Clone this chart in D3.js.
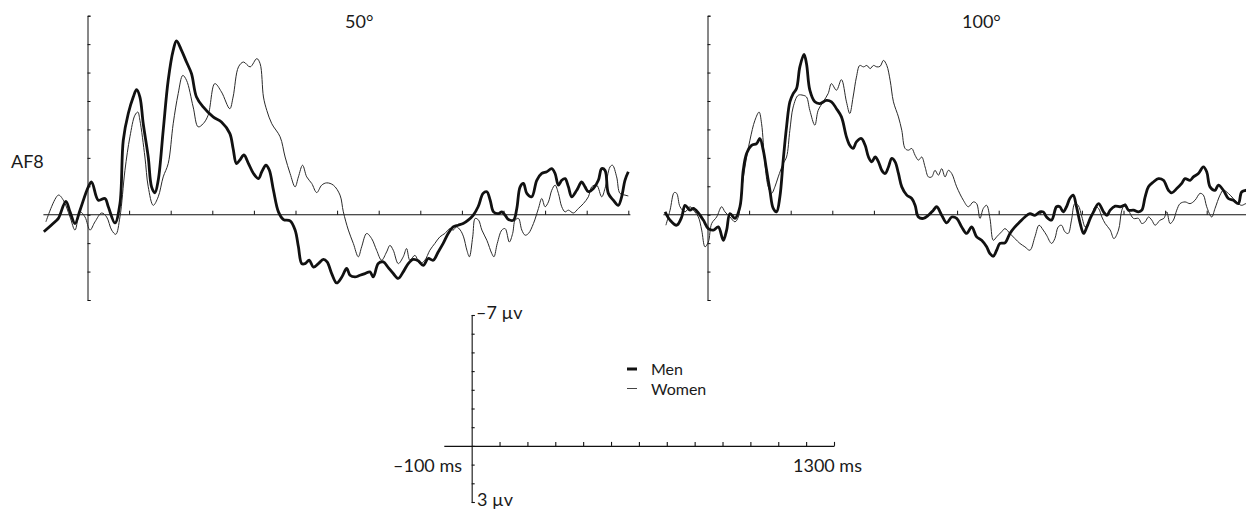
<html>
<head>
<script src="https://cdn.jsdelivr.net/npm/d3@7"></script>
<style>
	body { margin: 0; background-color: white; }
	text { font-family: Lato, "Open Sans", sans-serif; fill: #1a1a1a; font-size: 18px; }
</style>
</head>
<body>
<script>
	// ERP waveforms, channel AF8, [time in ms, amplitude in microvolts], negative drawn up
	var men50 = [[-105,0.6],[-78,0.25],[-70,0.13],[-52,-0.47],[-42,-0.1],[-30,0.31],[-18,-0.16],[2,-0.98],[10,-1.15],[26,-0.51],[42,-0.57],[50,-0.28],[66,0.29],[78,-0.39],[86,-2.62],[98,-3.56],[110,-4.14],[118,-4.4],[126,-4.14],[134,-3.2],[146,-2.03],[154,-0.98],[162,-0.77],[170,-1.21],[182,-2.97],[194,-4.73],[206,-5.78],[214,-6.11],[226,-5.78],[238,-5.37],[250,-4.96],[262,-4.14],[278,-3.79],[302,-3.44],[322,-3.26],[342,-2.86],[350,-2.33],[358,-1.8],[366,-1.92],[376,-2.1],[387,-1.8],[399,-1.45],[411,-1.27],[419,-1.51],[429,-1.74],[437,-1.57],[447,-0.86],[459,-0.1],[471,0.17],[487,0.22],[499,0.54],[507,1.13],[515,1.72],[523,1.72],[533,1.6],[543,1.84],[555,1.72],[567,1.57],[576,1.66],[587,2.07],[599,2.4],[611,2.2],[623,1.89],[631,2.13],[643,2.19],[655,2.13],[667,2.07],[679,2.01],[687,2.19],[699,1.72],[711,1.66],[723,1.86],[735,2.07],[747,2.24],[759,2.01],[771,1.72],[783,1.57],[795,1.62],[807,1.78],[819,1.54],[831,1.6],[843,1.31],[855,1.01],[867,0.66],[879,0.43],[891,0.37],[903,0.31],[915,0.19],[927,0.02],[939,-0.28],[951,-0.75],[960,-0.81],[968,-0.51],[976,-0.1],[988,-0.04],[996,-0.1],[1004,0.02],[1012,0.17],[1024,0.19],[1032,-0.22],[1040,-0.98],[1048,-1.1],[1056,-0.75],[1068,-0.63],[1080,-1.21],[1092,-1.45],[1104,-1.51],[1116,-1.62],[1124,-1.45],[1132,-1.04],[1140,-1.21],[1148,-1.27],[1156,-0.98],[1164,-0.63],[1176,-0.86],[1188,-1.15],[1196,-0.98],[1204,-0.81],[1216,-0.92],[1228,-1.21],[1236,-1.62],[1244,-1.56],[1252,-0.75],[1264,-0.51],[1276,-0.33],[1284,-0.63],[1292,-1.21],[1300,-1.51]];

	var women50 = [[-100,0.25],[-70,-0.69],[-58,-0.51],[-42,0.08],[-30,0.54],[-18,-0.1],[-6,0.08],[6,0.54],[18,0.25],[34,-0.06],[46,0.08],[58,0.54],[68,0.69],[78,0.08],[90,-1.56],[102,-2.74],[114,-3.5],[121,-3.61],[126,-3.32],[138,-2.03],[146,-0.98],[158,-0.33],[170,-0.63],[182,-1.33],[194,-1.8],[206,-3.2],[218,-4.26],[229,-4.9],[238,-4.73],[254,-3.79],[266,-3.09],[278,-3.2],[290,-3.5],[306,-4.61],[322,-4.32],[342,-3.73],[350,-4.14],[363,-5.2],[375,-5.37],[391,-5.2],[407,-5.49],[415,-5.31],[423,-4.14],[431,-3.67],[443,-3.2],[463,-2.74],[475,-2.03],[487,-1.45],[499,-0.98],[507,-1.33],[517,-1.74],[527,-1.33],[539,-1.1],[551,-0.78],[563,-1.04],[575,-1.12],[591,-1.04],[607,-0.69],[615,-0.1],[627,0.54],[639,1.01],[651,1.48],[659,1.13],[671,0.66],[683,0.84],[695,1.25],[707,1.6],[719,1.31],[727,1.08],[735,1.25],[747,1.72],[759,1.48],[767,1.19],[775,1.6],[787,1.43],[799,1.72],[811,1.6],[823,1.25],[835,1.01],[847,0.78],[859,0.66],[871,0.49],[879,0.54],[887,0.43],[896,0.54],[904,0.78],[912,1.25],[918,1.48],[926,0.78],[932,0.13],[940,0.19],[948,0.54],[960,0.9],[972,1.37],[977,1.48],[985,1.01],[996,0.54],[1004,0.49],[1014,0.96],[1022,0.66],[1028,0.19],[1036,0.13],[1044,0.54],[1052,0.72],[1060,0.66],[1072,0.31],[1084,-0.22],[1092,-0.57],[1100,-0.28],[1108,-0.45],[1116,-0.86],[1124,-1.04],[1132,-0.75],[1140,-0.28],[1148,-0.1],[1156,-0.16],[1168,-0.06],[1180,-0.22],[1192,-0.39],[1204,-0.63],[1212,-0.98],[1224,-1.04],[1236,-0.63],[1244,-0.92],[1256,-1.68],[1262,-1.74],[1272,-1.33],[1280,-0.75],[1292,-0.69],[1300,-0.66]];

	var men100 = [[-102,-0.1],[-90,0.19],[-74,0.37],[-62,0.08],[-54,-0.33],[-42,-0.16],[-34,-0.22],[-22,-0.06],[-10,0.19],[2,0.49],[14,0.54],[26,0.43],[38,0.9],[46,0.54],[54,-0.04],[66,0.13],[78,-0.28],[86,-1.57],[94,-2.15],[106,-2.44],[118,-2.5],[126,-2.68],[134,-2.27],[142,-1.57],[150,-0.86],[158,-0.22],[166,-0.1],[174,-0.63],[182,-1.92],[190,-3.09],[198,-3.97],[206,-4.26],[214,-4.44],[222,-5.2],[232,-5.64],[238,-5.31],[246,-4.38],[258,-3.97],[270,-3.91],[286,-4.02],[298,-3.97],[310,-3.73],[322,-3.44],[334,-2.74],[342,-2.44],[350,-2.33],[358,-2.56],[370,-2.68],[379,-2.44],[387,-2.03],[395,-1.86],[403,-2.03],[411,-1.86],[419,-1.56],[427,-1.45],[435,-1.68],[443,-1.98],[451,-1.86],[459,-1.45],[467,-0.98],[479,-0.69],[491,-0.57],[499,-0.33],[507,0.08],[519,0.13],[531,0.02],[543,-0.16],[551,-0.28],[563,0.02],[575,0.29],[587,0.08],[599,0.13],[611,0.43],[623,0.66],[635,0.43],[647,0.78],[659,0.9],[671,1.13],[679,1.37],[687,1.46],[695,1.25],[703,1.01],[715,0.99],[727,0.66],[739,0.43],[751,0.25],[763,0.08],[775,-0.04],[787,0.02],[799,-0.1],[807,-0.1],[815,0.08],[827,0.19],[839,-0.28],[847,-0.28],[855,-0.1],[863,-0.28],[871,-0.57],[879,-0.69],[887,-0.28],[896,0.31],[904,0.66],[912,0.43],[920,0.13],[928,-0.1],[940,-0.39],[952,-0.1],[960,0.02],[968,-0.16],[980,-0.3],[992,-0.28],[1004,-0.33],[1012,-0.16],[1024,-0.16],[1036,-0.1],[1044,-0.16],[1052,-0.63],[1060,-0.98],[1072,-1.15],[1084,-1.27],[1096,-1.21],[1108,-0.86],[1116,-0.77],[1128,-0.92],[1140,-1.1],[1148,-1.27],[1160,-1.21],[1168,-1.33],[1180,-1.45],[1192,-1.68],[1200,-1.51],[1208,-0.98],[1220,-0.86],[1228,-1.04],[1240,-0.86],[1252,-0.57],[1264,-0.51],[1276,-0.39],[1284,-0.8],[1294,-0.86],[1300,-0.9]];

	var women100 = [[-100,0.37],[-90,-0.16],[-80,-0.78],[-74,-0.75],[-66,-0.28],[-54,-0.1],[-42,-0.28],[-34,-0.16],[-22,0.08],[-14,0.54],[-6,1.13],[2,0.96],[10,0.31],[22,0.08],[34,-0.28],[42,-0.1],[54,0.08],[66,0.25],[74,0.08],[82,-0.86],[90,-1.68],[102,-2.62],[114,-3.32],[124,-3.61],[130,-3.2],[138,-1.8],[146,-0.98],[154,-0.75],[162,-0.98],[170,-1.33],[182,-1.8],[190,-2.03],[198,-2.97],[206,-3.79],[218,-4.2],[230,-4.2],[238,-4.14],[246,-3.67],[258,-3.15],[266,-3.67],[278,-3.97],[290,-4.26],[298,-4.61],[310,-4.38],[322,-4.75],[334,-3.97],[342,-3.56],[350,-4.14],[358,-4.84],[366,-5.25],[375,-5.2],[383,-5.25],[391,-5.14],[399,-5.25],[407,-5.2],[415,-5.22],[423,-5.43],[431,-5.25],[439,-4.73],[447,-3.97],[459,-3.44],[467,-2.97],[475,-2.33],[483,-2.27],[491,-2.33],[499,-2.09],[507,-1.92],[515,-2.03],[523,-1.68],[531,-1.33],[539,-1.33],[547,-1.56],[555,-1.39],[563,-1.62],[571,-1.33],[579,-1.56],[587,-1.45],[599,-0.98],[615,-0.51],[627,-0.28],[639,-0.45],[647,-0.39],[655,0.13],[663,-0.22],[671,-0.33],[679,0.13],[687,0.9],[695,0.78],[707,0.6],[715,0.49],[727,0.66],[739,0.84],[751,1.01],[763,1.13],[775,1.25],[787,0.78],[797,0.37],[807,0.54],[815,0.72],[827,1.01],[835,0.84],[843,0.43],[851,0.37],[859,0.6],[867,0.66],[875,0.19],[883,-0.39],[891,-0.33],[900,0.08],[908,0.43],[916,0.25],[924,0.02],[932,-0.28],[940,-0.22],[948,0.08],[956,0.31],[968,0.54],[977,0.84],[988,0.54],[996,-0.16],[1004,-0.39],[1012,-0.16],[1024,0.13],[1036,0.13],[1044,0.31],[1052,0.25],[1060,0.08],[1068,0.19],[1076,0.37],[1088,0.19],[1097,0.13],[1104,-0.1],[1112,0.31],[1120,0.19],[1128,-0.16],[1136,-0.39],[1148,-0.45],[1160,-0.39],[1172,-0.51],[1184,-0.75],[1192,-0.69],[1200,-0.28],[1212,0.08],[1220,-0.22],[1232,-0.69],[1240,-0.86],[1252,-0.75],[1264,-0.57],[1276,-0.39],[1284,-0.33],[1294,-0.39],[1300,-0.4]];

	var panelTitles = ["50\u00B0", "100\u00B0"];
	var channel = "AF8";
	var seriesNames = ["Men", "Women"];
	var voltTicks = [-7,-6,-5,-4,-3,-2,-1,0,1,2,3];
	var timeTicks = [100,200,300,400,500,600,700,800,900,1000,1100,1200,1300];
	var scaleLabels = ["\u20137 \u00B5v", "3 \u00B5v", "\u2013100 ms", "1300 ms"];

	var width = 1246, height = 512;

	var svg = d3.select("body")
		.append("svg")
		.attr("width", width)
		.attr("height", height)
		.style("display", "block");

	var y = d3.scaleLinear().domain([-7, 3]).range([15.7, 300]);

	var line = d3.line().curve(d3.curveCatmullRom.alpha(0.5));

	function drawPanel(x0, title, titleX, menData, womenData) {
		var x = d3.scaleLinear().domain([0, 1300]).range([x0, x0 + 1300 * 0.416]);
		var g = svg.append("g");

		// baseline
		g.append("line")
			.attr("x1", x(-106)).attr("x2", x(1305))
			.attr("y1", y(0)).attr("y2", y(0))
			.attr("stroke", "#111").attr("stroke-width", 1.1);

		g.append("g")
			.attr("transform", "translate(0," + y(0) + ")")
			.call(d3.axisTop(x).tickValues(timeTicks).tickSize(4).tickFormat(""))
			.call(function(a) { a.select(".domain").remove(); })
			.selectAll("line").attr("stroke", "#111");

		g.append("g")
			.attr("transform", "translate(" + x(0) + ",0)")
			.call(d3.axisRight(y).tickValues(voltTicks).tickSizeInner(3).tickSizeOuter(3).tickFormat(""))
			.selectAll("line,path").attr("stroke", "#111");

		g.append("path")
			.datum(womenData.map(function(d) { return [x(d[0]), y(d[1])]; }))
			.attr("d", line)
			.attr("fill", "none")
			.attr("stroke", "#2a2a2a")
			.attr("stroke-width", 1);

		g.append("path")
			.datum(menData.map(function(d) { return [x(d[0]), y(d[1])]; }))
			.attr("d", line)
			.attr("fill", "none")
			.attr("stroke", "#111")
			.attr("stroke-width", 2.8)
			.attr("stroke-linejoin", "round");

		g.append("text")
			.attr("x", titleX).attr("y", 28)
			.text(title);
	}

	drawPanel(87.5, panelTitles[0], 345, men50, women50);
	drawPanel(707.5, panelTitles[1], 962, men100, women100);

	svg.append("text")
		.attr("x", 11).attr("y", 168)
		.text(channel);

	// calibration scale
	var sx = d3.scaleLinear().domain([-100, 1300]).range([443.8, 834]);
	var sy = d3.scaleLinear().domain([-7, 3]).range([315, 502]);

	svg.append("g")
		.attr("transform", "translate(0," + sy(0) + ")")
		.call(d3.axisTop(sx).tickValues(timeTicks).tickSizeInner(4).tickSizeOuter(0).tickFormat(""))
		.selectAll("line,path").attr("stroke", "#111").attr("stroke-width", 1.1);

	svg.append("g")
		.attr("transform", "translate(" + sx(0) + ",0)")
		.call(d3.axisRight(sy).tickValues(voltTicks).tickSizeInner(3).tickSizeOuter(3).tickFormat(""))
		.selectAll("line,path").attr("stroke", "#111").attr("stroke-width", 1.1);

	svg.append("text").attr("x", 476).attr("y", 319).text(scaleLabels[0]);
	svg.append("text").attr("x", 477).attr("y", 506).text(scaleLabels[1]);
	svg.append("text").attr("x", 462).attr("y", 472).attr("text-anchor", "end").text(scaleLabels[2]);
	svg.append("text").attr("x", 793).attr("y", 472).text(scaleLabels[3]);

	// legend
	var legend = svg.append("g").attr("transform", "translate(627,369)");
	legend.selectAll("line")
		.data(seriesNames)
		.enter()
		.append("line")
		.attr("x1", 0).attr("x2", 10)
		.attr("y1", function(d, i) { return i * 19.5; })
		.attr("y2", function(d, i) { return i * 19.5; })
		.attr("stroke", function(d, i) { return i == 0 ? "#111" : "#444"; })
		.attr("stroke-width", function(d, i) { return i == 0 ? 3 : 1; });
	legend.selectAll("text")
		.data(seriesNames)
		.enter()
		.append("text")
		.attr("x", 24)
		.attr("y", function(d, i) { return 6 + i * 19.5; })
		.style("font-size", "16px")
		.text(function(d) { return d; });
</script>
</body>
</html>
